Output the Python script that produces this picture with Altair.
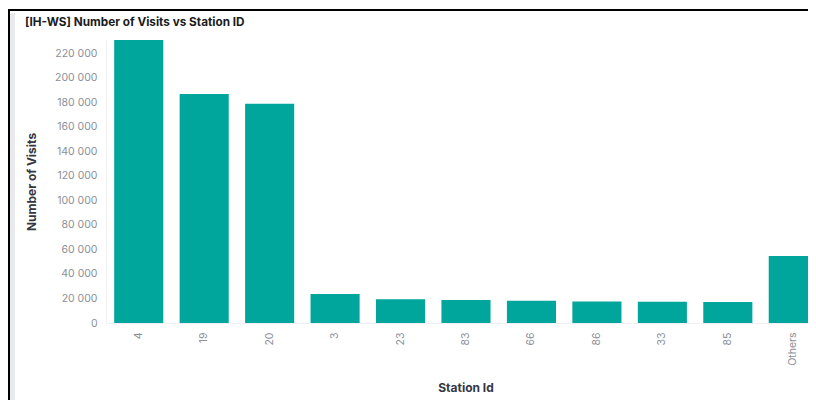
import altair as alt
import pandas as pd

stations = ["4", "19", "20", "3", "23", "83", "66", "86", "33", "85", "Others"]
visits = [231000, 187000, 179000, 23700, 19300, 18800, 18200, 17600, 17400, 17100, 54700]
y_ticks = [0, 20000, 40000, 60000, 80000, 100000, 120000, 140000, 160000, 180000, 200000, 220000]
chart_title = "[IH-WS] Number of Visits vs Station ID"

df = pd.DataFrame({"station": stations, "visits": visits})

FONT = "Inter"

bars = alt.Chart(df).mark_bar(color="#00A69B", clip=False).encode(
    x=alt.X(
        "station:N",
        sort=stations,
        title=None,
        scale=alt.Scale(paddingInner=0.25, paddingOuter=0.125, range=[0, 720]),
        axis=alt.Axis(
            labelAngle=-90,
            labelColor="#8a8f99",
            labelFontSize=10.5,
            labelFont=FONT,
            labelPadding=9,
            ticks=False,
            domain=False,
        ),
    ),
    y=alt.Y(
        "visits:Q",
        title="Number of Visits",
        scale=alt.Scale(nice=False, zero=True),
        axis=alt.Axis(
            values=y_ticks,
            labelExpr="replace(format(datum.value, ','), ',', ' ')",
            labelColor="#8a8f99",
            labelFontSize=10.5,
            labelFont=FONT,
            labelPadding=9,
            ticks=False,
            grid=False,
            domain=True,
            domainColor="#eef0f3",
            titleFont=FONT,
            titleFontSize=12,
            titleFontWeight="bold",
            titleColor="#343741",
            titlePadding=16,
        ),
    ),
)

title_df = pd.DataFrame({"t": [chart_title]})
title_mark = alt.Chart(title_df).mark_text(
    align="left", baseline="middle", font=FONT, fontSize=11.75, fontWeight="bold", color="#1a1c21"
).encode(text="t:N", x=alt.value(-81), y=alt.value(-18))

xtitle_df = pd.DataFrame({"t": ["Station Id"]})
xtitle_mark = alt.Chart(xtitle_df).mark_text(
    align="center", baseline="middle", font=FONT, fontSize=12, fontWeight="bold", color="#343741"
).encode(text="t:N", x=alt.value(360), y=alt.value(348))

baseline_rule = alt.Chart(title_df).mark_rule(color="#eef0f3", strokeWidth=1).encode(
    x=alt.value(0), x2=alt.value(720), y=alt.value(283.5)
)
frame_top = alt.Chart(title_df).mark_rule(color="#000000", strokeWidth=2).encode(
    x=alt.value(-98), x2=alt.value(720), y=alt.value(-30)
)
frame_left = alt.Chart(title_df).mark_rule(color="#000000", strokeWidth=2).encode(
    x=alt.value(-97), y=alt.value(-30), y2=alt.value(360)
)
panel_strip = alt.Chart(title_df).mark_rect(color="#e9eaee", cornerRadiusTopLeft=3).encode(
    x=alt.value(-97), x2=alt.value(-91), y=alt.value(-27), y2=alt.value(360)
)

chart = alt.layer(
    panel_strip, frame_top, frame_left, baseline_rule, bars, title_mark, xtitle_mark
).properties(
    width=702,
    height=283,
    padding={"left": 98, "top": 32, "right": 0, "bottom": 77},
    autosize=alt.AutoSizeParams(type="none"),
).configure_view(stroke=None)

chart.save("out.html", embed_options={"renderer": "svg", "actions": False})
